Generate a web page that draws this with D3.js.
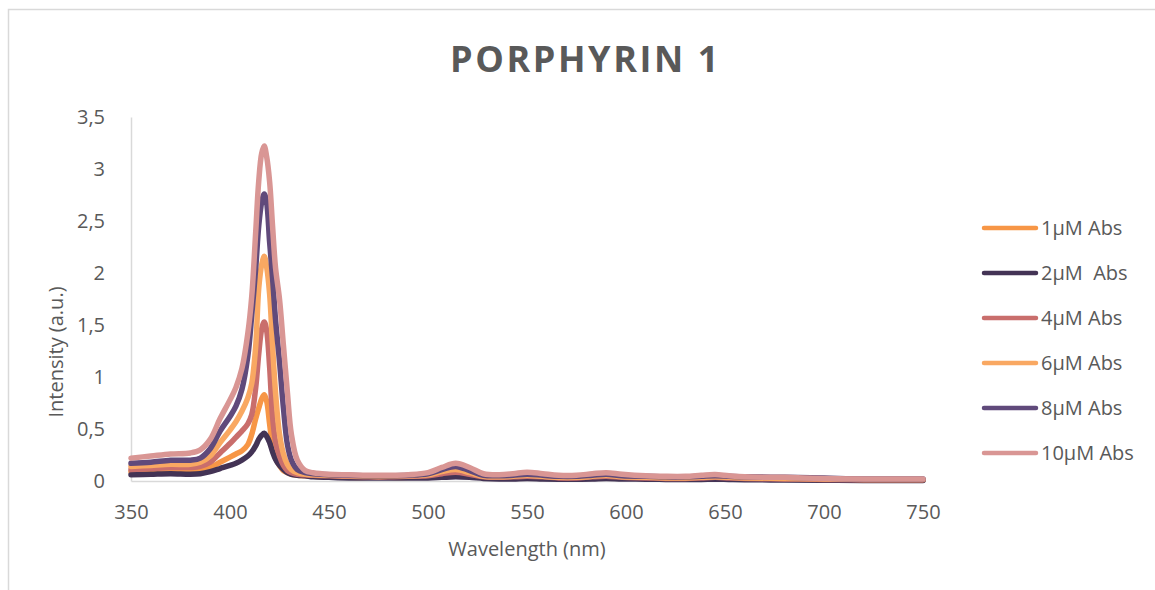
<!DOCTYPE html>
<html lang="en">
<head>
<meta charset="utf-8">
<title>Porphyrin 1</title>
<script src="https://d3js.org/d3.v7.min.js"></script>
<style>
  body { margin: 0; background: #fff; }
  text { font-family: "Open Sans", sans-serif; fill: #595959; }
</style>
</head>
<body>
<script>
// wavelengths (nm) shared by all spectra
var wavelength = [350,360,370,380,385,390,395,400,403,406,409,411,413,414.5,416,417.3,418.5,420,421.5,423,425,427,429,431,434,438,442,450,460,470,480,490,500,507,514,521,528,536,543,550,558,566,575,583,590,598,610,620,630,638,645,652,660,680,700,720,750];

// absorbance, one array per concentration
var abs1uM = [0.09,0.1,0.11,0.1,0.11,0.13,0.18,0.23,0.26,0.29,0.35,0.45,0.6,0.7,0.79,0.83,0.77,0.55,0.33,0.22,0.15,0.1,0.08,0.065,0.055,0.05,0.045,0.04,0.035,0.035,0.035,0.035,0.04,0.05,0.06,0.05,0.035,0.03,0.03,0.035,0.03,0.025,0.025,0.03,0.035,0.03,0.025,0.02,0.02,0.025,0.028,0.025,0.02,0.018,0.015,0.012,0.01];
var abs2uM = [0.06,0.065,0.07,0.065,0.07,0.09,0.12,0.15,0.17,0.2,0.24,0.28,0.34,0.4,0.44,0.46,0.43,0.37,0.28,0.21,0.15,0.11,0.08,0.065,0.055,0.05,0.04,0.035,0.03,0.03,0.03,0.03,0.03,0.035,0.04,0.035,0.025,0.02,0.02,0.025,0.02,0.018,0.018,0.02,0.025,0.02,0.018,0.015,0.015,0.015,0.018,0.015,0.012,0.01,0.008,0.006,0.006];
var abs4uM = [0.11,0.12,0.13,0.13,0.14,0.18,0.27,0.36,0.42,0.48,0.55,0.64,0.9,1.22,1.46,1.53,1.45,1.1,0.62,0.38,0.24,0.15,0.1,0.08,0.065,0.06,0.055,0.05,0.045,0.04,0.04,0.045,0.05,0.07,0.085,0.065,0.04,0.035,0.04,0.045,0.04,0.03,0.03,0.04,0.045,0.035,0.03,0.025,0.025,0.03,0.035,0.03,0.025,0.02,0.015,0.012,0.012];
var abs6uM = [0.14,0.15,0.16,0.16,0.18,0.24,0.37,0.49,0.57,0.67,0.8,0.94,1.3,1.85,2.08,2.16,2.06,1.8,1.3,0.85,0.45,0.26,0.16,0.11,0.08,0.065,0.06,0.055,0.05,0.045,0.045,0.05,0.06,0.09,0.11,0.08,0.045,0.04,0.045,0.055,0.045,0.035,0.035,0.045,0.055,0.04,0.035,0.03,0.03,0.035,0.04,0.035,0.03,0.025,0.02,0.015,0.015];
var abs8uM = [0.17,0.18,0.2,0.2,0.22,0.31,0.48,0.62,0.72,0.88,1.2,1.6,2.05,2.45,2.68,2.76,2.68,2.3,1.95,1.55,1.15,0.7,0.35,0.2,0.11,0.08,0.07,0.06,0.055,0.05,0.05,0.055,0.07,0.11,0.14,0.1,0.055,0.05,0.055,0.065,0.055,0.045,0.045,0.055,0.065,0.05,0.045,0.04,0.04,0.045,0.05,0.045,0.04,0.035,0.028,0.02,0.02];
var abs10uM = [0.22,0.24,0.26,0.27,0.3,0.4,0.6,0.78,0.9,1.08,1.42,1.78,2.4,2.88,3.15,3.22,3.12,2.88,2.45,2.05,1.75,1.3,0.85,0.45,0.2,0.1,0.08,0.065,0.06,0.055,0.055,0.06,0.08,0.13,0.17,0.13,0.07,0.06,0.07,0.085,0.07,0.055,0.055,0.07,0.08,0.065,0.05,0.045,0.045,0.055,0.062,0.05,0.04,0.035,0.025,0.02,0.02];

var seriesNames = ["1\u00b5M Abs", "2\u00b5M  Abs", "4\u00b5M Abs", "6\u00b5M Abs", "8\u00b5M Abs", "10\u00b5M Abs"];
var seriesValues = [abs1uM, abs2uM, abs4uM, abs6uM, abs8uM, abs10uM];
var seriesColors = ["#f79646", "#433355", "#c96e6c", "#f9a862", "#604a7b", "#d99694"];

var xTicks = [350,400,450,500,550,600,650,700,750];
var yTicks = [0,0.5,1,1.5,2,2.5,3,3.5];
var yTickLabels = ["0","0,5","1","1,5","2","2,5","3","3,5"];

var limX = 1155;
var limY = 590;

var svg = d3.select("body").append("svg")
  .attr("width", limX)
  .attr("height", limY);

// chart frame
svg.append("rect")
  .attr("x", 8.5).attr("y", 9.5)
  .attr("width", 1300).attr("height", 800)
  .attr("fill", "none")
  .attr("stroke", "#d9d9d9")
  .attr("stroke-width", 1.5);

var x = d3.scaleLinear().domain([350, 750]).range([131, 923]);
var y = d3.scaleLinear().domain([0, 3.5]).range([481, 117]);

// title
svg.append("text")
  .attr("x", 585.5).attr("y", 72)
  .attr("text-anchor", "middle")
  .style("font-size", "36px")
  .style("font-weight", "bold")
  .style("letter-spacing", "2.6px")
  .text("PORPHYRIN 1");

// axes
var xAxis = svg.append("g")
  .attr("transform", "translate(0,481)")
  .call(d3.axisBottom(x).tickValues(xTicks).tickSize(0).tickPadding(24));

var yAxis = svg.append("g")
  .attr("transform", "translate(131,0)")
  .call(d3.axisLeft(y).tickValues(yTicks).tickSize(0).tickPadding(26)
    .tickFormat(function(d, i){ return yTickLabels[i]; }));

[xAxis, yAxis].forEach(function(g){
  g.select(".domain").attr("stroke", "#d9d9d9").attr("stroke-width", 1.5);
  g.selectAll("text").style("font-size", "20px").attr("fill", "#595959");
});

svg.append("text")
  .attr("x", 527).attr("y", 556)
  .attr("text-anchor", "middle")
  .style("font-size", "20px")
  .text("Wavelength (nm)");

svg.append("text")
  .attr("transform", "translate(63,352) rotate(-90)")
  .attr("text-anchor", "middle")
  .style("font-size", "20px")
  .text("Intensity (a.u.)");

// spectra
var line = d3.line()
  .x(function(d, i){ return x(wavelength[i]); })
  .y(function(d){ return y(d); })
  .curve(d3.curveCatmullRom.alpha(0.5));

svg.selectAll("path.serie")
  .data(seriesValues)
  .enter()
  .append("path")
  .attr("class", "serie")
  .attr("d", line)
  .attr("fill", "none")
  .attr("stroke", function(d, i){ return seriesColors[i]; })
  .attr("stroke-width", 5.5)
  .attr("stroke-linejoin", "round")
  .attr("stroke-linecap", "round");

// legend
var legend = svg.selectAll("g.leg")
  .data(seriesNames)
  .enter()
  .append("g")
  .attr("class", "leg")
  .attr("transform", function(d, i){ return "translate(0," + (228 + i * 45) + ")"; });

legend.append("line")
  .attr("x1", 984).attr("x2", 1036)
  .attr("stroke", function(d, i){ return seriesColors[i]; })
  .attr("stroke-width", 4.5)
  .attr("stroke-linecap", "round");

legend.append("text")
  .attr("x", 1041)
  .attr("dy", "0.35em")
  .style("font-size", "20px")
  .style("white-space", "pre")
  .text(function(d){ return d; });
</script>
</body>
</html>
